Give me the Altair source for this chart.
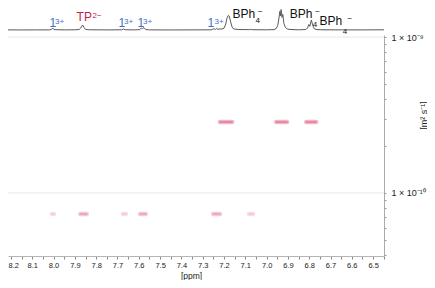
import altair as alt
import pandas as pd

# ---- 1D projection spectrum (ppm, relative intensity) ----
spec_ppm = [8.214, 8.15, 8.08, 8.02, 8.010, 8.004, 7.998, 7.95, 7.90, 7.880, 7.872, 7.864,
            7.857, 7.850, 7.83, 7.75, 7.68, 7.672, 7.665, 7.62, 7.595, 7.588, 7.582, 7.576,
            7.568, 7.55, 7.45, 7.35, 7.26, 7.248, 7.240, 7.234, 7.228, 7.222, 7.214, 7.200,
            7.192, 7.186, 7.180, 7.175, 7.169, 7.162, 7.155, 7.13, 7.08, 7.075, 7.065, 7.00,
            6.965, 6.955, 6.948, 6.942, 6.938, 6.935, 6.932, 6.928, 6.924, 6.919, 6.912, 6.903,
            6.89, 6.85, 6.815, 6.808, 6.802, 6.797, 6.790, 6.784, 6.777, 6.768, 6.74, 6.65,
            6.55, 6.449]
spec_int = [0.3, 0.2, 0.3, 0.3, 0.8, 2.8, 0.6, 0.3, 0.4, 0.8, 3.0, 6.8,
            3.5, 0.9, 0.4, 0.3, 0.4, 1.5, 0.5, 0.3, 0.6, 2.8, 2.0, 3.4,
            0.8, 0.3, 0.2, 0.3, 0.4, 1.8, 0.9, 2.2, 0.8, 1.6, 1.2, 2.5,
            8.0, 16.0, 19.5, 18.5, 11.0, 4.0, 1.5, 0.8, 0.6, 1.0, 0.5, 0.4,
            0.6, 2.0, 6.0, 16.0, 25.0, 19.0, 27.5, 17.0, 21.0, 9.0, 3.5, 1.5,
            0.8, 0.4, 0.8, 3.0, 7.5, 5.0, 13.5, 7.0, 2.0, 0.8, 0.4, 0.3,
            0.3, 0.4]

# ---- DOSY cross peaks ----
peak_lo = [7.219, 6.955, 6.814, 8.008, 7.875, 7.675, 7.594, 7.251, 7.083]
peak_hi = [7.162, 6.904, 6.768, 7.998, 7.844, 7.660, 7.567, 7.219, 7.063]
peak_D = [2.85e-10, 2.85e-10, 2.85e-10, 7.33e-11, 7.33e-11, 7.33e-11, 7.33e-11, 7.33e-11, 7.33e-11]
peak_level = [3, 3, 3, 1, 2, 1, 2, 2, 1]

# ---- peak assignments (text fragments) ----
ann_text = ["1", "3+", "TP", "2\u2212", "1", "3+", "1", "3+", "1", "3+",
            "BPh", "4", "\u2212", "BPh", "4", "\u2212", "BPh", "4", "\u2212"]
ann_role = ["main", "script", "main", "script", "main", "script", "main", "script", "main", "script",
            "main", "script", "script", "main", "script", "script", "main", "script", "script"]
ann_group = ["cation", "cation", "TP", "TP", "cation", "cation", "cation", "cation", "cation", "cation",
             "BPh", "BPh", "BPh", "BPh", "BPh", "BPh", "BPh", "BPh", "BPh"]
ann_ppm = [8.019, 7.993, 7.892, 7.817, 7.695, 7.669, 7.606, 7.580, 7.277, 7.245,
           7.160, 7.052, 7.040, 6.892, 6.784, 6.772, 6.752, 6.643, 6.620]
ann_level = [4.5, 8.5, 11.5, 16.5, 4.5, 8.5, 4.5, 8.5, 4.5, 8.5,
             16.5, 10.0, 22.0, 16.5, 4.5, 22.0, 6.5, -5.5, 11.5]

# ---- axes ----
x_labels = [8.2, 8.1, 8.0, 7.9, 7.8, 7.7, 7.6, 7.5, 7.4, 7.3, 7.2, 7.1, 7.0, 6.9, 6.8, 6.7, 6.6, 6.5]
x_minor = [8.15, 8.05, 7.95, 7.85, 7.75, 7.65, 7.55, 7.45, 7.35, 7.25, 7.15, 7.05, 6.95, 6.85,
           6.75, 6.65, 6.55, 6.45]
y_major = [1e-9, 1e-10]
y_major_labels = ["1 \u00d7 10\u207b\u2079", "1 \u00d7 10\u207b\u00b9\u2070"]
y_minor = [4e-11, 5e-11, 6e-11, 7e-11, 8e-11, 9e-11, 2e-10, 3e-10, 4e-10, 5e-10, 6e-10,
           7e-10, 8e-10, 9e-10]

FONT = "Liberation Sans"

spec_df = pd.DataFrame({"ppm": spec_ppm, "inten": spec_int})
peak_df = pd.DataFrame({"lo": peak_lo, "hi": peak_hi, "D": peak_D, "level": peak_level})
ann_df = pd.DataFrame({"text": ann_text, "role": ann_role, "group": ann_group,
                       "ppm": ann_ppm, "inten": ann_level})
grid_df = pd.DataFrame({"D": y_major})

x_scale = alt.Scale(domain=[8.214, 6.449], nice=False, zero=False)
x_axis = alt.Axis(values=x_labels + x_minor,
                  labelExpr="abs(round(datum.value*10) - datum.value*10) < 0.01 ? format(datum.value, '.1f') : ''",
                  labelOverlap=False, labelFlush=5, labelFlushOffset=3, grid=False,
                  tickSize=3, tickColor="#8a8a8a", domainColor="#b5b5b5",
                  labelFont=FONT, labelFontSize=7.5, labelColor="#222222", labelPadding=2,
                  titleFont=FONT, titleFontSize=8.5, titleFontWeight="normal", titleColor="#222222",
                  titleX=183, titleY=19, titleAlign="center", titleBaseline="middle")

lab_expr = ("abs(log(datum.value)/LN10 + 9) < 0.01 ? '" + y_major_labels[0] + "' : "
            "abs(log(datum.value)/LN10 + 10) < 0.01 ? '" + y_major_labels[1] + "' : ''")
y_scale = alt.Scale(type="log", domain=[3.94e-11, 1.03e-9], range=[248, 27], nice=False)
y_axis = alt.Axis(orient="right", values=y_major + y_minor, labelExpr=lab_expr,
                  labelOverlap=False, grid=False, tickSize=2, tickColor="#999999",
                  domainColor="#aaaaaa", labelPadding=5, labelFont=FONT, labelFontSize=9,
                  labelColor="#222222", title="[m\u00b2 s\u207b\u00b9]", titleFont=FONT,
                  titleFontSize=9, titleFontWeight="normal", titleColor="#222222",
                  titleAngle=270, titleX=39, titleY=107, titleAlign="center",
                  titleBaseline="middle")

spec_y = alt.Scale(domain=[0, 29.5], range=[22.1, 0], nice=False, zero=False)

grid = alt.Chart(grid_df).mark_rule(color="#e8e8e8", strokeWidth=1).encode(
    y=alt.Y("D:Q", scale=y_scale, axis=y_axis)
)
outer = alt.Chart(peak_df).mark_rule(color="#e8859f", strokeWidth=4.5, strokeCap="round").encode(
    x=alt.X("lo:Q", scale=x_scale, axis=x_axis, title="[ppm]"),
    x2="hi:Q",
    y=alt.Y("D:Q", scale=y_scale, axis=y_axis),
    opacity=alt.Opacity("level:Q", scale=alt.Scale(domain=[1, 3], range=[0.25, 0.6]), legend=None),
)
inner = alt.Chart(peak_df).mark_rule(color="#c8285a", strokeWidth=1.1, strokeCap="round").encode(
    x=alt.X("lo:Q", scale=x_scale, axis=x_axis, title="[ppm]"),
    x2="hi:Q",
    y=alt.Y("D:Q", scale=y_scale, axis=y_axis),
    opacity=alt.Opacity("level:Q", scale=alt.Scale(domain=[1, 3], range=[0.3, 0.75]), legend=None),
)
dosy = alt.layer(grid, outer, inner)

line = alt.Chart(spec_df).mark_line(color="#5a5a5a", strokeWidth=1).encode(
    x=alt.X("ppm:Q", scale=x_scale, axis=x_axis, title="[ppm]"),
    y=alt.Y("inten:Q", scale=spec_y, axis=None),
)
labels = alt.Chart(ann_df).mark_text(font=FONT, align="left", baseline="alphabetic").encode(
    x=alt.X("ppm:Q", scale=x_scale, axis=x_axis, title="[ppm]"),
    y=alt.Y("inten:Q", scale=spec_y, axis=None),
    text="text:N",
    color=alt.Color("group:N", scale=alt.Scale(domain=["cation", "TP", "BPh"],
                                               range=["#3b72c6", "#c41e4a", "#111111"]), legend=None),
    size=alt.Size("role:N", scale=alt.Scale(domain=["main", "script"], range=[12, 8]), legend=None),
)
spec = alt.layer(line, labels)

chart = alt.layer(spec, dosy).resolve_scale(y="independent").properties(
    width=376, height=248,
    background="white",
    autosize=alt.AutoSizeParams(type="none"),
    padding={"left": 0, "top": 0, "right": 43, "bottom": 24},
).configure_view(strokeWidth=0)

chart.save("out.html", embed_options={"renderer": "svg", "actions": False})
